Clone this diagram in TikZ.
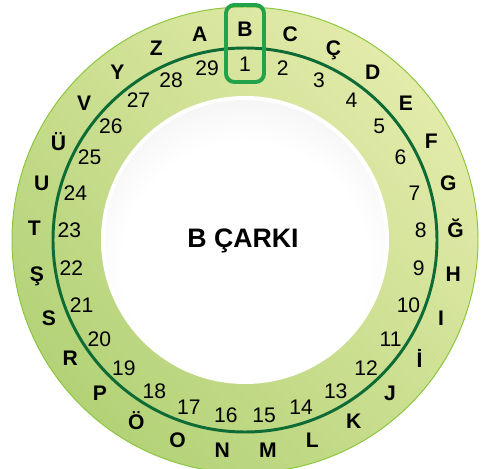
\documentclass[tikz,border=0pt]{standalone}
\usepackage{fontspec}
\setmainfont{Liberation Sans}
\usetikzlibrary{positioning}

\definecolor{ringhi}{HTML}{E3EBAA}
\definecolor{ringlo}{HTML}{B3D277}
\definecolor{ringedge}{HTML}{8CC63F}
\definecolor{ringline}{HTML}{0E6B36}
\definecolor{boxgreen}{HTML}{22A24A}
\definecolor{plategray}{HTML}{DCDCDC}
\pgfdeclareradialshading{plate}{\pgfpoint{0bp}{-6bp}}{color(0bp)=(white); color(22bp)=(white); color(50bp)=(plategray); color(100bp)=(plategray)}

\begin{document}
\begin{tikzpicture}[x=0.025cm,y=0.025cm,
    letter/.style={font=\fontsize{15}{15}\selectfont\bfseries,text depth=0pt},
    number/.style={font=\fontsize{15}{15}\selectfont},
    selbox/.style={draw=boxgreen,line width=2.8pt,rounded corners=6pt,minimum width=0.95cm,minimum height=1.925cm}]
\useasboundingbox (0,0) rectangle (483,469);
\begin{scope}[shift={(245,229)}]
    \shade[top color=ringhi,bottom color=ringlo,shading angle=-45] (0,0) circle (233);
    \draw[ringedge,line width=0.7pt] (0,0) circle (233);
    \draw[ringline,line width=2.1pt] (0,0) circle (192);
    \fill[white] (0,0) circle (144);
    \shade[shading=plate] (0,0) circle (140);
    \foreach \l [count=\n] in {B,C,Ç,D,E,F,G,Ğ,H,I,İ,J,K,L,M,N,O,Ö,P,R,S,Ş,T,U,Ü,V,Y,Z,A}
        \node[letter] (L\n) at ({90-(\n-1)*360/29}:211) {\l};
    \foreach \n in {1,...,29}
        \node[number] (N\n) at ({90-(\n-1)*360/29}:176) {\n};
    \node[font=\fontsize{19}{19}\selectfont\bfseries,text depth=0pt] (title) at (-2,2) {B ÇARKI};
\end{scope}
\node[selbox] (sel) at (245,425.5) {};
\end{tikzpicture}
\end{document}
